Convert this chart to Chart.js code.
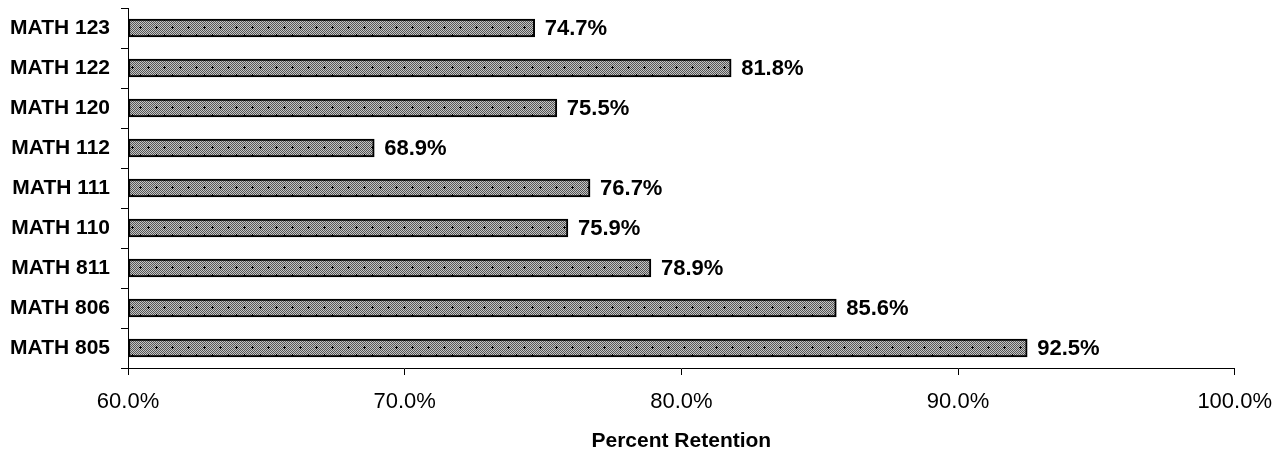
<!DOCTYPE html>
<html>
<head>
<meta charset="utf-8">
<script src="https://cdn.jsdelivr.net/npm/chart.js@4"></script>
<style>
html,body{margin:0;padding:0;background:#fff;}
canvas{display:block;}
</style>
</head>
<body>
<canvas id="c" width="1286" height="455"></canvas>
<script>
const categories = ["MATH 123","MATH 122","MATH 120","MATH 112","MATH 111","MATH 110","MATH 811","MATH 806","MATH 805"];
const retention = [74.7, 81.8, 75.5, 68.9, 76.7, 75.9, 78.9, 85.6, 92.5];
const xTicks = [60, 70, 80, 90, 100];

function makePattern(ctx){
  const p = document.createElement('canvas');
  p.width = 16; p.height = 16;
  const g = p.getContext('2d');
  for(let y=0;y<16;y++){
    for(let x=0;x<16;x++){
      g.fillStyle = ((x+y)%2===0) ? '#555555' : '#c4c4c4';
      g.fillRect(x,y,1,1);
    }
  }
  g.fillStyle = '#000';
  const cross = (cx,cy)=>{ g.fillRect(cx-1,cy,3,1); g.fillRect(cx,cy-1,1,3); };
  cross(4,3); cross(12,11);
  return ctx.createPattern(p,'repeat');
}

const ctx = document.getElementById('c').getContext('2d');
const pattern = makePattern(ctx);

const labelPlugin = {
  id:'valueLabels',
  afterDatasetsDraw(chart){
    const c = chart.ctx;
    const meta = chart.getDatasetMeta(0);
    c.save();
    c.font = 'bold 22px "Liberation Sans", Arial, sans-serif';
    c.fillStyle = '#000';
    c.textAlign = 'left';
    c.textBaseline = 'middle';
    meta.data.forEach((bar,i)=>{
      c.fillText(retention[i].toFixed(1)+'%', bar.x + 10, bar.y + 1);
    });
    c.restore();
  }
};

new Chart(ctx, {
  type:'bar',
  data:{
    labels: categories,
    datasets:[{
      data: retention,
      backgroundColor: pattern,
      borderColor:'#000',
      borderWidth:2,
      borderSkipped:false,
      barThickness:18,
      base:60
    }]
  },
  options:{
    indexAxis:'y',
    responsive:false,
    animation:false,
    devicePixelRatio:1,
    layout:{padding:{top:8,right:51,left:0,bottom:0}},
    plugins:{legend:{display:false},tooltip:{enabled:false}},
    scales:{
      x:{
        min:60,max:100,
        afterBuildTicks(scale){ scale.ticks = xTicks.map(v=>({value:v})); },
        afterFit(scale){ scale.height = 87; },
        grid:{drawOnChartArea:false,drawTicks:true,tickLength:7,color:'#000'},
        border:{color:'#000',width:1},
        ticks:{
          padding:14,
          color:'#000',
          font:{family:'"Liberation Sans", Arial, sans-serif',size:22},
          callback:(v)=>Number(v).toFixed(1)+'%',
          maxRotation:0
        },
        title:{display:true,text:'Percent Retention',color:'#000',
          font:{family:'"Liberation Sans", Arial, sans-serif',size:21,weight:'bold'},
          padding:{top:0,bottom:1}}
      },
      y:{
        afterFit(scale){ scale.width = 128; scale.paddingTop = 0; scale.paddingBottom = 0; },
        grid:{drawOnChartArea:false,drawTicks:true,tickLength:7,color:'#000',offset:true},
        border:{color:'#000',width:1},
        ticks:{
          padding:11,
          color:'#000',
          font:{family:'"Liberation Sans", Arial, sans-serif',size:21,weight:'bold'}
        }
      }
    }
  },
  plugins:[labelPlugin]
});
</script>
</body>
</html>
